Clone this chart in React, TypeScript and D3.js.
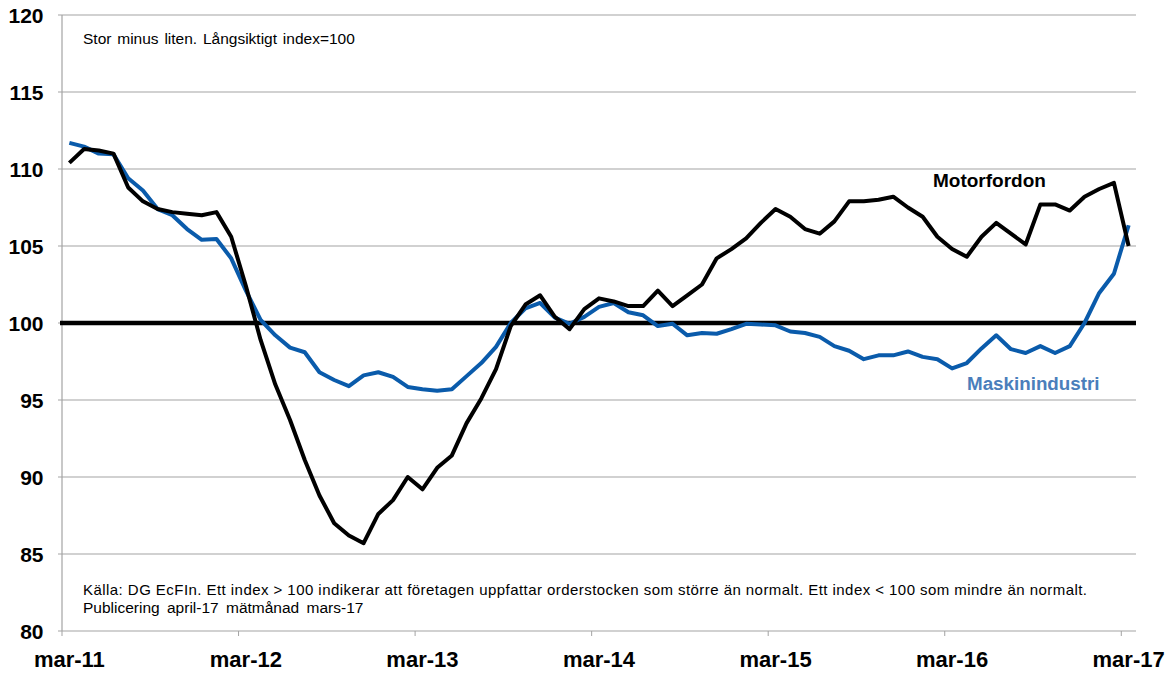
import React, { useEffect, useRef } from 'react';
import * as d3 from 'd3';

// Monthly index, mar-11 .. mar-17 (73 months)
const motorfordon = [
  110.4, 111.3, 111.2, 111.0, 108.8, 107.9, 107.4, 107.2, 107.1, 107.0, 107.2, 105.6,
  102.4, 98.9, 96.0, 93.7, 91.1, 88.8, 87.0, 86.2, 85.7, 87.6, 88.5, 90.0,
  89.2, 90.6, 91.4, 93.5, 95.1, 97.0, 99.8, 101.2, 101.8, 100.4, 99.6, 100.9,
  101.6, 101.4, 101.1, 101.1, 102.1, 101.1, 101.8, 102.5, 104.2, 104.8, 105.5, 106.5,
  107.4, 106.9, 106.1, 105.8, 106.6, 107.9, 107.9, 108.0, 108.2, 107.5, 106.9, 105.6,
  104.8, 104.3, 105.6, 106.5, 105.8, 105.1, 107.7, 107.7, 107.3, 108.2, 108.7, 109.1,
  105.0,
];

const maskinindustri = [
  111.7, 111.45, 111.0, 110.95, 109.4, 108.6, 107.4, 107.0, 106.1, 105.4, 105.45, 104.2,
  102.1, 100.2, 99.2, 98.4, 98.1, 96.8, 96.3, 95.9, 96.6, 96.8, 96.5, 95.85,
  95.7, 95.6, 95.7, 96.55, 97.4, 98.45, 100.0, 100.95, 101.3, 100.35, 99.95, 100.4,
  101.05, 101.3, 100.7, 100.5, 99.8, 99.95, 99.2, 99.35, 99.3, 99.6, 99.95, 99.9,
  99.85, 99.45, 99.35, 99.1, 98.5, 98.2, 97.65, 97.9, 97.9, 98.15, 97.8, 97.65,
  97.05, 97.4, 98.35, 99.2, 98.3, 98.05, 98.5, 98.05, 98.5, 100.0, 101.95, 103.2,
  106.35,
];

const xTickLabels = ['mar-11', 'mar-12', 'mar-13', 'mar-14', 'mar-15', 'mar-16', 'mar-17'];
const yTicks = [80, 85, 90, 95, 100, 105, 110, 115, 120];

const NOTE_TOP = 'Stor minus liten. Långsiktigt index=100';
const NOTE_1 = 'Källa: DG EcFIn. Ett index > 100 indikerar att företagen uppfattar orderstocken som större än normalt. Ett index < 100 som mindre än normalt.';
const NOTE_2 = 'Publicering april-17 mätmånad mars-17';

export default function App() {
  const ref = useRef<SVGSVGElement | null>(null);

  useEffect(() => {
    const W = 1174;
    const H = 673;
    const svg = d3.select(ref.current);
    svg.selectAll('*').remove();

    const left = 62;
    const right = 1136;
    const top = 15;
    const bottom = 631;
    const n = motorfordon.length;
    const font = '"Liberation Sans", Arial, sans-serif';
    const grid = '#a3a3a3';

    const x = d3.scaleLinear().domain([0, n]).range([left, right]);
    const y = d3.scaleLinear().domain([80, 120]).range([bottom, top]);

    svg.attr('width', W).attr('height', H).attr('viewBox', `0 0 ${W} ${H}`);
    svg.append('rect').attr('width', W).attr('height', H).attr('fill', '#fff');

    // gridlines + y ticks
    yTicks.forEach((v) => {
      svg.append('line')
        .attr('x1', left - 4).attr('x2', v === 80 ? left : right)
        .attr('y1', y(v)).attr('y2', y(v))
        .attr('stroke', grid).attr('stroke-width', 1);
      svg.append('text')
        .attr('x', 43.5).attr('y', y(v) + 7.5)
        .attr('text-anchor', 'end')
        .attr('font-family', font).attr('font-weight', 'bold').attr('font-size', 21)
        .attr('fill', '#000')
        .text(v);
    });

    // axes
    svg.append('line')
      .attr('x1', left).attr('x2', left).attr('y1', top).attr('y2', bottom)
      .attr('stroke', grid).attr('stroke-width', 1.2);
    svg.append('line')
      .attr('x1', left).attr('x2', right).attr('y1', bottom).attr('y2', bottom)
      .attr('stroke', grid).attr('stroke-width', 1.2);

    xTickLabels.forEach((lab, k) => {
      const i = k * 12;
      svg.append('line')
        .attr('x1', x(i)).attr('x2', x(i)).attr('y1', bottom).attr('y2', bottom + 5)
        .attr('stroke', grid).attr('stroke-width', 1);
      svg.append('text')
        .attr('x', x(i + 0.5)).attr('y', 667)
        .attr('text-anchor', 'middle')
        .attr('font-family', font).attr('font-weight', 'bold').attr('font-size', 22)
        .attr('fill', '#000')
        .text(lab);
    });

    // reference line at 100
    svg.append('line')
      .attr('x1', left - 2).attr('x2', right)
      .attr('y1', y(100)).attr('y2', y(100))
      .attr('stroke', '#000').attr('stroke-width', 4.5);

    const line = d3.line<number>()
      .x((_, i) => x(i + 0.5))
      .y((d) => y(d));

    svg.append('path')
      .datum(maskinindustri)
      .attr('d', line)
      .attr('fill', 'none')
      .attr('stroke', '#0a5bab')
      .attr('stroke-width', 4)
      .attr('stroke-linejoin', 'round');

    svg.append('path')
      .datum(motorfordon)
      .attr('d', line)
      .attr('fill', 'none')
      .attr('stroke', '#000')
      .attr('stroke-width', 4)
      .attr('stroke-linejoin', 'round');

    // series labels
    svg.append('text')
      .attr('x', 933).attr('y', 187)
      .attr('font-family', font).attr('font-weight', 'bold').attr('font-size', 19)
      .attr('fill', '#000')
      .text('Motorfordon');
    svg.append('text')
      .attr('x', 967).attr('y', 390)
      .attr('font-family', font).attr('font-weight', 'bold').attr('font-size', 18.8)
      .attr('fill', '#4a7ebb')
      .text('Maskinindustri');

    // notes
    svg.append('text')
      .attr('x', 83).attr('y', 43.5)
      .attr('font-family', font).attr('font-size', 15.5)
      .attr('word-spacing', 1.5)
      .attr('fill', '#000')
      .text(NOTE_TOP);
    svg.append('text')
      .attr('x', 83).attr('y', 595)
      .attr('font-family', font).attr('font-size', 15)
      .attr('textLength', 1004).attr('lengthAdjust', 'spacing')
      .attr('fill', '#000')
      .text(NOTE_1);
    svg.append('text')
      .attr('x', 83).attr('y', 613)
      .attr('font-family', font).attr('font-size', 15.5)
      .attr('word-spacing', 3)
      .attr('fill', '#000')
      .text(NOTE_2);
  }, []);

  return (
    <div style={{ position: 'absolute', left: 0, top: 0 }}>
      <svg ref={ref} style={{ display: 'block' }} />
    </div>
  );
}
